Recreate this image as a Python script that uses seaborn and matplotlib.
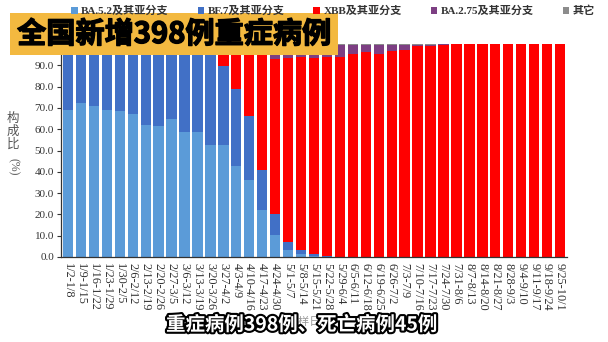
import numpy as np
import pandas as pd
import matplotlib
matplotlib.use("Agg")
import matplotlib.pyplot as plt
import matplotlib.patheffects as pe
from matplotlib.patches import Rectangle, Patch
import seaborn as sns

sns.set_theme(style="white")
plt.rcParams['font.family'] = ['Liberation Serif', 'Noto Sans CJK SC', 'DejaVu Sans']

# weekly sampling periods
weeks = ['1/2-1/8', '1/9-1/15', '1/16-1/22', '1/23-1/29', '1/30-2/5', '2/6-2/12',
         '2/13-2/19', '2/20-2/26', '2/27-3/5', '3/6-3/12', '3/13-3/19', '3/20-3/26',
         '3/27-4/2', '4/3-4/9', '4/10-4/16', '4/17-4/23', '4/24-4/30', '5/1-5/7',
         '5/8-5/14', '5/15-5/21', '5/22-5/28', '5/29-6/4', '6/5-6/11', '6/12-6/18',
         '6/19-6/25', '6/26-7/2', '7/3-7/9', '7/10-7/16', '7/17-7/23', '7/24-7/30',
         '7/31-8/6', '8/7-8/13', '8/14-8/20', '8/21-8/27', '8/28-9/3', '9/4-9/10',
         '9/11-9/17', '9/18-9/24', '9/25-10/1']

# share of each lineage (%)
ba52 = [69.2, 72.5, 70.8, 69.2, 68.4, 67.0, 62.2, 61.7, 64.7, 58.5, 58.6, 52.8,
        52.8, 42.7, 36.3, 22.0, 10.5, 3.3, 1.4, 0.5, 0.2, 0, 0, 0,
        0, 0, 0, 0, 0, 0, 0, 0, 0, 0, 0, 0, 0, 0, 0]
bf7 = [30.8, 27.5, 29.2, 30.8, 31.6, 33.0, 37.8, 38.3, 35.3, 41.5, 41.4, 46.7,
       36.7, 36.2, 29.8, 18.8, 9.7, 3.7, 1.9, 0.8, 0.3, 0, 0, 0,
       0, 0, 0, 0, 0, 0, 0, 0, 0, 0, 0, 0, 0, 0, 0]
xbb = [0, 0, 0, 0, 0, 0, 0, 0, 0, 0, 0, 0.5,
       10.5, 21.1, 33.9, 58.2, 72.8, 86.5, 90.7, 92.2, 93.3, 94.0, 95.5, 96.3,
       95.5, 96.5, 97.0, 99.0, 99.0, 99.7, 99.8, 99.8, 100, 100, 100, 100, 100, 100, 100]
ba275 = [0, 0, 0, 0, 0, 0, 0, 0, 0, 0, 0, 0,
         0, 0, 0, 1.0, 6.5, 6.0, 5.5, 6.0, 5.7, 5.5, 4.0, 3.2,
         4.0, 3.0, 2.6, 0.7, 0.7, 0.2, 0.1, 0.1, 0, 0, 0, 0, 0, 0, 0]
other = [0, 0, 0, 0, 0, 0, 0, 0, 0, 0, 0, 0,
         0, 0, 0, 0, 0.5, 0.5, 0.5, 0.5, 0.5, 0.5, 0.5, 0.5,
         0.5, 0.5, 0.4, 0.3, 0.3, 0.1, 0.1, 0.1, 0, 0, 0, 0, 0, 0, 0]

names = ['BA.5.2及其亚分支', 'BF.7及其亚分支', 'XBB及其亚分支', 'BA.2.75及其亚分支', '其它']
colors = ['#5B9BD8', '#4170C6', '#FF0000', '#7D3F83', '#8C8C8C']

df = pd.DataFrame({'week': weeks, 'ba52': ba52, 'bf7': bf7, 'xbb': xbb,
                   'ba275': ba275, 'other': other})
cols = ['ba52', 'bf7', 'xbb', 'ba275', 'other']
cum = df[cols].cumsum(axis=1)

fig = plt.figure(figsize=(6.08, 3.42), dpi=100)
ax = fig.add_axes([61 / 608, 1 - 257 / 342, 505.5 / 608, 213 / 342])

# draw cumulative totals back to front -> stacked look
for c, col in reversed(list(zip(colors, cols))):
    sns.barplot(x=df['week'], y=cum[col], ax=ax, color=c, width=0.8,
                saturation=1, linewidth=0)

ax.set_xlim(-0.54, 38.5)
ax.set_ylim(0, 100)
ax.set_yticks(np.arange(0, 100, 10))
ax.set_yticklabels([f"{v:.1f}" for v in np.arange(0, 100, 10)], fontsize=8, color='#333333')
ax.set_xticks(np.arange(len(weeks)))
ax.set_xticklabels(weeks, rotation=270, fontsize=8.8, color='#333333', va='top')
ax.set_xticks(np.arange(len(weeks) + 1) - 0.5, minor=True)
ax.tick_params(axis='x', which='major', length=0, pad=4)
ax.tick_params(axis='x', which='minor', length=3, width=0.8, color='#333333', direction='out')
ax.tick_params(axis='y', length=3, width=0.8, color='#333333', direction='out', left=True, pad=2)
ax.set_xlabel('')
ax.set_ylabel('')
for s in ['top', 'right']:
    ax.spines[s].set_visible(False)
for s in ['left', 'bottom']:
    ax.spines[s].set_color('#333333')
    ax.spines[s].set_linewidth(0.9)

# y label: upright characters + rotated (%)
fig.text(13 / 608, 1 - 132 / 342, '构\n成\n比', fontsize=9, color='#555555',
         ha='center', va='center', linespacing=1.1)
fig.text(13 / 608, 1 - 167 / 342, '(%)', fontsize=8.5, color='#555555',
         ha='center', va='center', rotation=270)

# legend
handles = [Patch(facecolor=c, edgecolor='none') for c in colors]
fig.legend(handles, names, loc='center left', bbox_to_anchor=(61 / 608, 1 - 11 / 342),
           ncol=5, frameon=False, handlelength=0.6, handleheight=0.6, handletextpad=0.3,
           columnspacing=2.6, prop={'size': 8, 'weight': 'bold'}, labelcolor='#333333')

# x label, mostly hidden behind the caption
fig.text(310 / 608, 1 - 322 / 342, '采样日期', fontsize=8, color='#999999',
         ha='center', va='center')

# overlay title box
fig.patches.append(Rectangle((10 / 608, 1 - 55 / 342), 328 / 608, 42 / 342,
                             transform=fig.transFigure, facecolor='#F3B940',
                             edgecolor='none', zorder=5))
fig.text(174 / 608, 1 - 34 / 342, '全国新增398例重症病例', fontsize=21, weight='bold',
         color='black', ha='center', va='center', zorder=6,
         family=['Noto Sans CJK SC'],
         path_effects=[pe.withStroke(linewidth=1.0, foreground='black')])

# bottom caption
fig.text(302 / 608, 1 - 325 / 342, '重症病例398例、死亡病例45例', fontsize=14, weight='bold',
         color='white', ha='center', va='center', zorder=6,
         family=['Noto Sans CJK SC'],
         path_effects=[pe.withStroke(linewidth=3, foreground='black')])

fig.savefig('out.png', dpi=100)
